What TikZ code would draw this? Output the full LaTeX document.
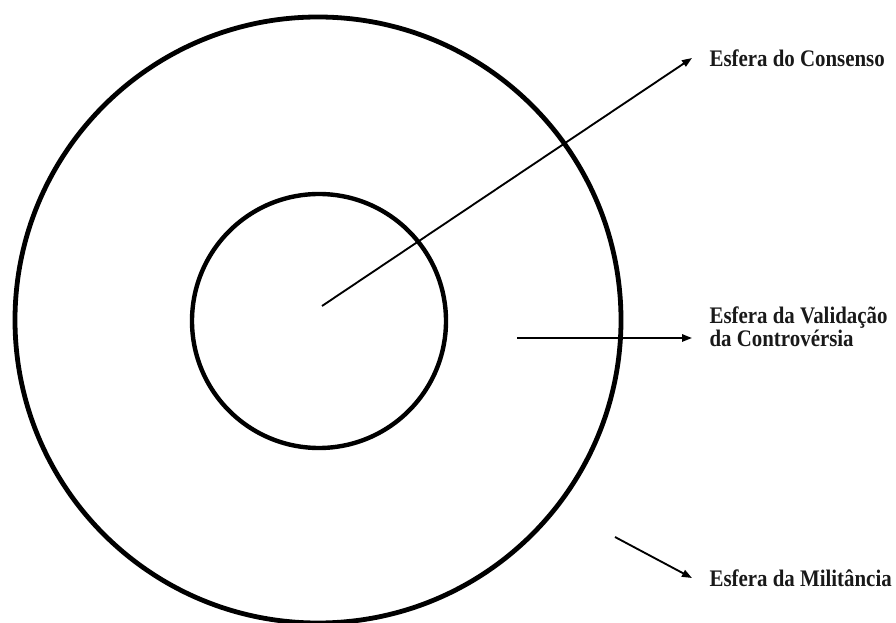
\documentclass[tikz,border=0pt]{standalone}
\usepackage{fontspec}
\setmainfont{Liberation Serif}
\newfontfamily\estreita[FakeStretch=0.88]{Liberation Serif}
\usetikzlibrary{arrows.meta}
\tikzset{
  esfera/.style={line width=3.6pt},
  rotulo/.style={anchor=west, align=left, inner xsep=13pt, inner ysep=0pt,
    font=\estreita\fontsize{17.8}{17.3}\selectfont\bfseries, text=black!90},
  seta/.style={->, line width=1.4pt}
}
\begin{document}
\begin{tikzpicture}[x=0.75pt, y=-0.75pt, >={Triangle[length=7.5pt,width=5.5pt]}]
    \useasboundingbox (0,0) rectangle (896,623);

    % Circles
    \coordinate (centro) at (318,320);
    \draw[esfera] (centro) circle[radius=227.25pt];
    \draw[esfera, line width=3.3pt] (319,321) circle[radius=95.25pt];

    % Labels
    \node[rotulo] (consenso) at (692,58) {Esfera do Consenso};
    \node[rotulo] (validacao) at (692,326.5) {Esfera da Validação\\da Controvérsia};
    \node[rotulo] (militancia) at (692,578) {Esfera da Militância};

    % Arrows
    \coordinate (s1) at (322,306);
    \coordinate (s2) at (517,338);
    \coordinate (s3) at (615,537);
    \draw[seta] (s1) -- (consenso.west);
    \draw[seta] (s2) -- (s2 -| validacao.west);
    \draw[seta] (s3) -- (militancia.west);
\end{tikzpicture}
\end{document}
